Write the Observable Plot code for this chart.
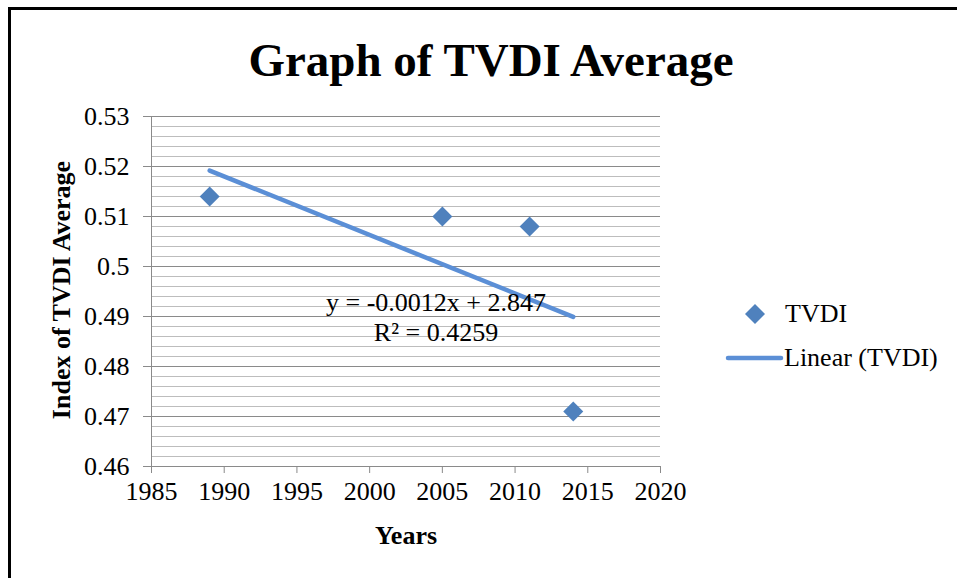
<!DOCTYPE html>
<html><head><meta charset="utf-8">
<script src="https://cdn.jsdelivr.net/npm/d3@7"></script>
<script src="https://cdn.jsdelivr.net/npm/@observablehq/plot@0.6"></script>
<style>
body{margin:0;background:#fff;font-family:"Liberation Serif","Times New Roman",serif;}
#wrap{position:relative;width:957px;height:578px;overflow:hidden;}
#frame{position:absolute;left:8px;top:7px;width:1000px;height:700px;border-top:3px solid #000;border-left:3px solid #000;}
#chart{position:absolute;left:0;top:0;}
#chart svg, #chart svg text{font-family:"Liberation Serif","Times New Roman",serif !important;}
.t{position:absolute;white-space:nowrap;color:#000;}
</style></head>
<body><div id="wrap"><div id="frame"></div><div id="chart"></div></div>
<script>
const years = [1989, 2005, 2011, 2014];
const tvdi = [0.514, 0.510, 0.508, 0.471];
const xTicks = [1985, 1990, 1995, 2000, 2005, 2010, 2015, 2020];
const yTicks = [0.46, 0.47, 0.48, 0.49, 0.50, 0.51, 0.52, 0.53];
const yMinor = d3.range(0, 36).map(i => +(0.46 + i * 0.002).toFixed(3));
const yTickLabels = ["0.46", "0.47", "0.48", "0.49", "0.5", "0.51", "0.52", "0.53"];
const title = "Graph of TVDI Average";
const xLabel = "Years";
const yLabel = "Index of TVDI Average";
const eqLines = ["y = -0.0012x + 2.847", "R² = 0.4259"];
const legendItems = ["TVDI", "Linear (TVDI)"];

const data = years.map((y, i) => ({year: y, value: tvdi[i]}));
const markerColor = "#4f81bd";
const lineColor = "#5b8fd6";
const serif = "Liberation Serif, Times New Roman, serif";

const plot = Plot.plot({
  width: 957, height: 578,
  marginLeft: 151, marginRight: 297, marginTop: 116, marginBottom: 112,
  style: {fontFamily: serif, fontSize: "26px", background: "transparent", color: "#000"},
  x: {domain: [1985, 2020]},
  y: {domain: [0.46, 0.53]},
  marks: [
    Plot.ruleY(yMinor, {stroke: "#bdbdbd", strokeWidth: 1, strokeOpacity: 1}),
    Plot.ruleY(yTicks, {stroke: "#8a8a8a", strokeWidth: 1, strokeOpacity: 1}),
    Plot.ruleX([1985], {stroke: "#8a8a8a", strokeOpacity: 1}),
    Plot.axisY({ticks: yTicks, tickSize: 8, tickPadding: 14, stroke: "#8a8a8a", fontFamily: serif, fontSize: 26, tickFormat: (d) => yTickLabels[yTicks.indexOf(d)], label: null}),
    Plot.axisX({ticks: xTicks, tickSize: 7, tickPadding: 8, stroke: "#8a8a8a", fontFamily: serif, fontSize: 26, tickFormat: d => String(d), label: null}),
    Plot.linearRegressionY(data, {x: "year", y: "value", ci: 0, stroke: lineColor, strokeWidth: 4.5}),
    Plot.dot(data, {x: "year", y: "value", symbol: "diamond2", r: 9, fill: markerColor, stroke: "none"})
  ]
});
document.getElementById("chart").appendChild(plot);

const wrap = document.getElementById("wrap");
function addText(txt, css) {
  const d = document.createElement("div");
  d.className = "t";
  d.textContent = txt;
  Object.assign(d.style, css);
  wrap.appendChild(d);
  return d;
}
addText(title, {left: "491px", top: "32px", transform: "translateX(-50%)", fontSize: "47px", fontWeight: "bold", lineHeight: "56px"});
addText(xLabel, {left: "406px", top: "520px", transform: "translateX(-50%)", fontSize: "26px", fontWeight: "bold", lineHeight: "32px"});
addText(yLabel, {left: "62px", top: "290px", transform: "translate(-50%,-50%) rotate(-90deg)", fontSize: "26px", fontWeight: "bold", lineHeight: "32px"});
addText(eqLines[0], {left: "436px", top: "288px", transform: "translateX(-50%)", fontSize: "26px", lineHeight: "30px"});
addText(eqLines[1], {left: "436px", top: "318px", transform: "translateX(-50%)", fontSize: "26px", lineHeight: "30px"});

// legend
const leg = document.createElement("div");
leg.style.position = "absolute"; leg.style.left = "0"; leg.style.top = "0";
leg.innerHTML = `<svg width="957" height="578" style="position:absolute;left:0;top:0">
<path d="M755,304L765,314L755,324L745,314Z" fill="${markerColor}"/>
<line x1="728" y1="358" x2="781" y2="358" stroke="${lineColor}" stroke-width="4.5" stroke-linecap="round"/></svg>`;
wrap.appendChild(leg);
addText(legendItems[0], {left: "785px", top: "298px", fontSize: "26px", lineHeight: "32px"});
addText(legendItems[1], {left: "784px", top: "342px", fontSize: "26px", lineHeight: "32px"});
</script></body></html>
